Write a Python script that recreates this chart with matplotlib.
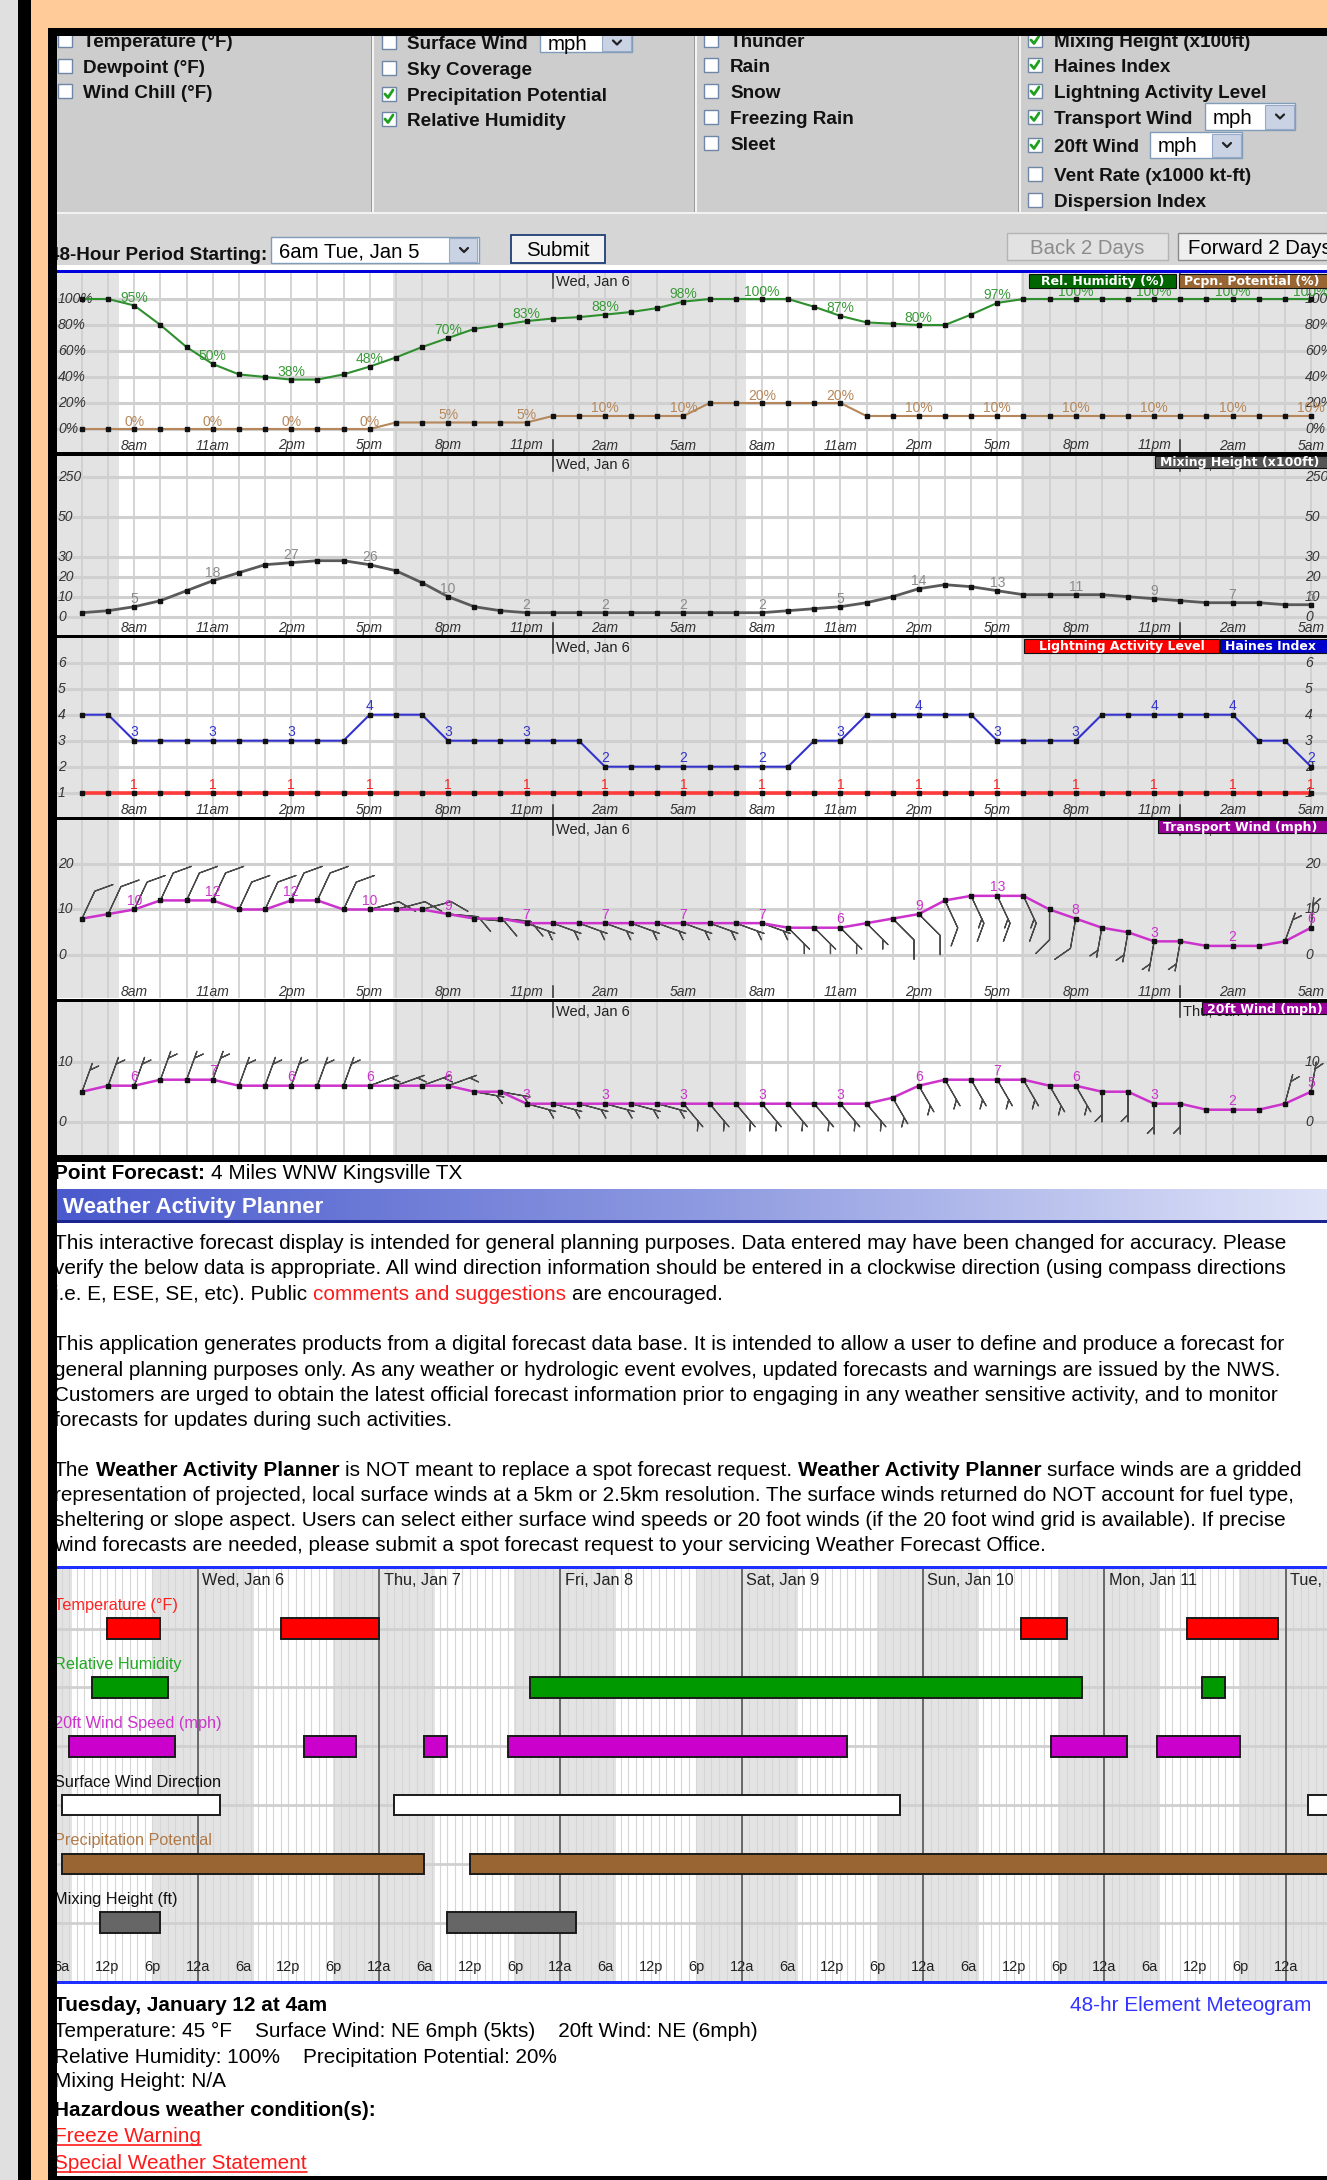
import numpy as np
import matplotlib
matplotlib.use('Agg')
import matplotlib.pyplot as plt
from matplotlib.patches import Rectangle
from matplotlib.lines import Line2D
from matplotlib.colors import LinearSegmentedColormap
import matplotlib.transforms as mtransforms
from matplotlib import font_manager as fm

# ------------------------------------------------------------------ data
hours = list(range(48))                      # hourly steps, 6am Tue Jan 5 .. 5am Thu Jan 7
hour_tick_hours = list(range(2, 48, 3))
hour_tick_labels = ['8am', '11am', '2pm', '5pm', '8pm', '11pm', '2am', '5am',
                    '8am', '11am', '2pm', '5pm', '8pm', '11pm', '2am', '5am']
day_mark_hours = [18, 42]
day_mark_labels = ['Wed, Jan 6', 'Thu, Jan 7']
value_label_hours = list(range(2, 48, 3))

rel_humidity = [100, 100, 95, 80, 63, 50, 42, 40, 38, 38, 42, 48,
                55, 63, 70, 77, 80, 83, 85, 86, 88, 90, 93, 98,
                100, 100, 100, 100, 94, 87, 82, 81, 80, 80, 88, 97,
                100, 100, 100, 100, 100, 100, 100, 100, 100, 100, 100, 100]
precip_potential = [0, 0, 0, 0, 0, 0, 0, 0, 0, 0, 0, 0,
                    5, 5, 5, 5, 5, 5, 10, 10, 10, 10, 10, 10,
                    20, 20, 20, 20, 20, 20, 10, 10, 10, 10, 10, 10,
                    10, 10, 10, 10, 10, 10, 10, 10, 10, 10, 10, 10]
mixing_height = [2, 3, 5, 8, 13, 18, 22, 26, 27, 28, 28, 26,
                 23, 17, 10, 5, 3, 2, 2, 2, 2, 2, 2, 2,
                 2, 2, 2, 3, 4, 5, 7, 10, 14, 16, 15, 13,
                 11, 11, 11, 11, 10, 9, 8, 7, 7, 7, 6, 6]
haines_index = [4, 4, 3, 3, 3, 3, 3, 3, 3, 3, 3, 4,
                4, 4, 3, 3, 3, 3, 3, 3, 2, 2, 2, 2,
                2, 2, 2, 2, 3, 3, 4, 4, 4, 4, 4, 3,
                3, 3, 3, 4, 4, 4, 4, 4, 4, 3, 3, 2]
lightning_level = [1, 1, 1, 1, 1, 1, 1, 1, 1, 1, 1, 1,
                   1, 1, 1, 1, 1, 1, 1, 1, 1, 1, 1, 1,
                   1, 1, 1, 1, 1, 1, 1, 1, 1, 1, 1, 1,
                   1, 1, 1, 1, 1, 1, 1, 1, 1, 1, 1, 1]
transport_wind = [8, 9, 10, 12, 12, 12, 10, 10, 12, 12, 10, 10,
                  10, 10, 9, 8, 8, 7, 7, 7, 7, 7, 7, 7,
                  7, 7, 7, 6, 6, 6, 7, 8, 9, 12, 13, 13,
                  13, 10, 8, 6, 5, 3, 3, 2, 2, 2, 3, 6]
transport_dir = [25, 25, 25, 25, 25, 25, 25, 25, 25, 25, 25, 75,
                 75, 75, 95, 95, 95, 110, 110, 110, 110, 110, 110, 110,
                 110, 110, 110, 135, 135, 135, 135, 135, 135, 155, 155, 155,
                 155, 180, 190, 190, 190, 190, 190, 230, 20, 20, 20, 5]
wind20_speed = [5, 6, 6, 7, 7, 7, 6, 6, 6, 6, 6, 6,
                6, 6, 6, 5, 5, 3, 3, 3, 3, 3, 3, 3,
                3, 3, 3, 3, 3, 3, 3, 4, 6, 7, 7, 7,
                7, 6, 6, 5, 5, 3, 3, 2, 2, 2, 3, 5]
wind20_dir = [20, 20, 20, 20, 20, 20, 20, 20, 20, 20, 20, 70,
              70, 70, 70, 100, 100, 105, 105, 105, 105, 105, 105, 140,
              140, 140, 140, 140, 140, 140, 140, 150, 150, 150, 150, 150,
              150, 150, 150, 180, 180, 180, 180, 165, 165, 15, 15, 10]

rh_ticks = [0, 20, 40, 60, 80, 100]
mix_ticks = [0, 10, 20, 30, 50, 250]
haines_ticks = [1, 2, 3, 4, 5, 6]
transport_ticks = [0, 10, 20]
wind20_ticks = [0, 10]

# planner (hours counted from Tue Jan 5 00:00)
planner_rows = ['Temperature (°F)', 'Relative Humidity', '20ft Wind Speed (mph)',
                'Surface Wind Direction', 'Precipitation Potential', 'Mixing Height (ft)']
planner_fill = ['#ff0000', '#009900', '#cc00cc', '#ffffff', '#996633', '#666666']
planner_text = ['#ff2020', '#22aa22', '#cc33cc', '#111111', '#b07a48', '#111111']
temp_spans = [(12, 19), (35, 48), (133, 139), (155, 167)]
rh_spans = [(10, 20), (68, 141), (157, 160)]
wind20_spans = [(7, 21), (38, 45), (54, 57), (65, 110), (137, 147), (151, 162)]
sfc_dir_spans = [(6, 27), (50, 117), (171, 185)]
pop_spans = [(6, 54), (60, 185)]
mix_spans = [(11, 19), (57, 74)]
planner_spans = [temp_spans, rh_spans, wind20_spans, sfc_dir_spans, pop_spans, mix_spans]
planner_days = [24, 48, 72, 96, 120, 144, 168]
planner_day_labels = ['Wed, Jan 6', 'Thu, Jan 7', 'Fri, Jan 8', 'Sat, Jan 9',
                      'Sun, Jan 10', 'Mon, Jan 11', 'Tue, Jan 12']
planner_tick_hours = list(range(6, 169, 6))
planner_tick_labels = ['6a', '12p', '6p', '12a'] * 7
sunrise_hour, sunset_hour = 7.4, 17.9

# ------------------------------------------------------------------ figure helpers
W, H = 1327, 2180
fig = plt.figure(figsize=(W / 100, H / 100), dpi=100)
fig.patch.set_facecolor('white')
R = fig.canvas.get_renderer()


def has_font(name):
    try:
        fm.findfont(fm.FontProperties(family=name), fallback_to_default=False)
        return True
    except Exception:
        return False


SANS = 'Liberation Sans' if has_font('Liberation Sans') else 'DejaVu Sans'
WIDE = 'DejaVu Sans'


def X(x):
    return x / W


def Y(y):
    return 1 - y / H


def box(x, y, w, h, fc, ec='none', lw=0.0, z=0.5):
    r = Rectangle((X(x), Y(y + h)), w / W, h / H, transform=fig.transFigure,
                  facecolor=fc, edgecolor=ec, linewidth=lw, zorder=z)
    fig.add_artist(r)
    return r


def fline(xs, ys, color, lw, z=2):
    fig.add_artist(Line2D([X(v) for v in xs], [Y(v) for v in ys], transform=fig.transFigure,
                          color=color, lw=lw, zorder=z, solid_capstyle='round'))


def width_px(s, size, **kw):
    t = fig.text(0, 0, '|' + s + '|', fontsize=size, **kw)
    w1 = t.get_window_extent(R).width
    t.set_text('||')
    w2 = t.get_window_extent(R).width
    t.remove()
    return w1 - w2


def fit_size(s, target, **kw):
    return 10.0 * target / width_px(s, 10.0, **kw)


def txt(x, yc, s, size, z=3, ha='left', **kw):
    base = yc + 0.36 * size * 100 / 72
    return fig.text(X(x), Y(base), s, fontsize=size, ha=ha, va='baseline', zorder=z, **kw)


def rich(x, yc, segs, size, family=SANS):
    for s, opt in segs:
        props = dict(family=family, weight=opt.get('weight', 'normal'))
        lead = len(s) - len(s.lstrip(' '))
        trail = len(s) - len(s.rstrip(' '))
        core = s.strip(' ')
        if lead:
            x += width_px(' ' * lead, size, **props)
        if core:
            col = opt.get('color', 'black')
            txt(x, yc, core, size, color=col, **props)
            wc = width_px(core, size, **props)
            if opt.get('underline'):
                b = yc + 0.36 * size * 100 / 72 + 2.5
                fline([x, x + wc], [b, b], col, 1.2, z=3)
            x += wc
        if trail:
            x += width_px(' ' * trail, size, **props)
    return x


# ------------------------------------------------------------------ page frame
box(0, 0, 18, H, '#e0e0e0', z=10)
box(18, 0, 13, H, 'black', z=10)
box(31, 0, W - 31, 28, '#ffcc99', z=10)
box(31, 28, 17, H - 28, '#ffcc99', z=10)
box(48, 28, W - 48, 8, 'black', z=10)
box(48, 28, 9, H - 28, 'black', z=10)
box(48, 2176, W - 48, 4, 'black', z=10)

# ------------------------------------------------------------------ control panel
box(57, 36, W - 57, 176, '#cdcdcd', z=0.2)
box(57, 212, W - 57, 2, '#f2f2f2', z=0.2)
box(57, 214, W - 57, 51, '#d6d6d6', z=0.2)
box(57, 265, W - 57, 4.5, '#ffffff', z=0.2)
box(57, 269.5, W - 57, 3, '#0000dd', z=2)
for xd in (372, 695, 1019):
    box(xd - 1, 36, 1, 176, '#9a9a9a', z=0.3)
    box(xd, 36, 2, 176, '#f4f4f4', z=0.3)

CB = fit_size('Precipitation Potential', 199, family=SANS, weight='bold')


def checkbox(x, yc, checked):
    box(x, yc - 7, 14, 14, 'white', ec='#6f86a6', lw=1.0, z=1)
    if checked:
        fline([x + 3, x + 6, x + 11], [yc, yc + 3.5, yc - 4], '#1fa01f', 2.0, z=2)


columns = [
    (58, 83, [('Temperature (°F)', False, 40), ('Dewpoint (°F)', False, 66),
              ('Wind Chill (°F)', False, 91)]),
    (382, 407, [('Surface Wind', False, 42), ('Sky Coverage', False, 68),
                ('Precipitation Potential', True, 94), ('Relative Humidity', True, 119)]),
    (704, 730, [('Thunder', False, 40), ('Rain', False, 65), ('Snow', False, 91),
                ('Freezing Rain', False, 117), ('Sleet', False, 143)]),
    (1028, 1054, [('Mixing Height (x100ft)', True, 40), ('Haines Index', True, 65),
                  ('Lightning Activity Level', True, 91), ('Transport Wind', True, 117),
                  ('20ft Wind', True, 145), ('Vent Rate (x1000 kt-ft)', False, 174),
                  ('Dispersion Index', False, 200)]),
]
for cbx, tx, items in columns:
    for label, checked, yc in items:
        checkbox(cbx, yc, checked)
        txt(tx, yc, label, CB, family=SANS, weight='bold', color='#111111', z=1)

DD = fit_size('6am Tue, Jan 5', 141, family=SANS)


def dropdown(x0, x1, y0, y1, label, size, arrow_w=30):
    box(x0, y0, x1 - x0, y1 - y0, 'white', ec='#7f9db9', lw=1.0, z=1)
    box(x1 - arrow_w, y0 + 1.5, arrow_w - 1.5, y1 - y0 - 3, '#c9d3e4', ec='#97a9c6', lw=0.8, z=1.1)
    cx, cy = x1 - arrow_w / 2, (y0 + y1) / 2
    fline([cx - 4, cx, cx + 4], [cy - 2, cy + 2, cy - 2], '#222222', 1.6, z=1.2)
    txt(x0 + 8, cy, label, size, family=SANS, color='black', z=1.2)


dropdown(540, 632, 33, 52, 'mph', DD)
dropdown(1205, 1295, 103, 130, 'mph', DD)
dropdown(1150, 1242, 132, 158, 'mph', DD)
dropdown(271, 479, 237, 263, '6am Tue, Jan 5', DD)

txt(49, 253, '48-Hour Period Starting:', CB, family=SANS, weight='bold', color='#111111', z=1)
box(511, 235, 94, 28, '#f3f3f3', ec='#1f3f76', lw=1.3, z=1)
txt(558, 249, 'Submit', DD, ha='center', family=SANS, color='black', z=1.2)
box(1007, 233, 161, 27, '#e2e2e2', ec='#b4b4b4', lw=1.0, z=1)
txt(1087, 247, 'Back 2 Days', DD, ha='center', family=SANS, color='#8c8c8c', z=1.2)
box(1178, 233, 170, 27, '#efefef', ec='#8a8a8a', lw=1.0, z=1)
txt(1188, 247, 'Forward 2 Days', DD, family=SANS, color='black', z=1.2)

# ------------------------------------------------------------------ meteogram panels
PX0, PXW = 57, W - 57
HX0, HPX = 82.0, 26.15
xlim = ((PX0 - HX0) / HPX, (PX0 + PXW - HX0) / HPX)
night_spans = [(-3, sunrise_hour - 6), (sunset_hour - 6, sunrise_hour + 18),
               (sunset_hour + 18, 50)]
LEG = fit_size('Mixing Height (x100ft)', 159, family=WIDE, weight='bold')


def chart_axes(top, bottom, ylim, ticks, fmt, show_hours=True, scale=None):
    hp = bottom - top
    ax = fig.add_axes([X(PX0), Y(bottom), PXW / W, hp / H], zorder=1)
    if scale is not None:
        ax.set_yscale('function', functions=scale)
    ax.set_xlim(*xlim)
    ax.set_ylim(*ylim)
    ax.set_facecolor('white')
    for a, b in night_spans:
        ax.axvspan(a, b, color='#e3e3e3', lw=0, zorder=0)
    for h in hours:
        ax.axvline(h, color='#cdcdcd', lw=1.2, zorder=0.5)
    for t in ticks:
        ax.axhline(t, color='#d0d0d0', lw=2.2, zorder=0.5)
    ax.set_xticks([])
    ax.set_yticks([])
    ax.minorticks_off()
    for s in ax.spines.values():
        s.set_visible(False)
    bt = mtransforms.blended_transform_factory(ax.transAxes, ax.transData)
    for t in ticks:
        for xa in (1.0 / PXW, (1305 - PX0) / PXW):
            ax.text(xa, t, fmt(t), transform=bt, ha='left', va='center', fontsize=10,
                    style='italic', family=SANS, color='#333333', zorder=2)
    bx = mtransforms.blended_transform_factory(ax.transData, ax.transAxes)
    if show_hours:
        for h, lab in zip(hour_tick_hours, hour_tick_labels):
            ax.text(h, 6.5 / hp, lab, transform=bx, ha='center', va='center', fontsize=10,
                    style='italic', family=SANS, color='#333333', zorder=2)
    for h, lab in zip(day_mark_hours, day_mark_labels):
        ax.plot([h, h], [1 - 15 / hp, 1], transform=bx, color='#333333', lw=1.1, zorder=2)
        ax.text(h + 3 / HPX, 1 - 9.5 / hp, lab, transform=bx, ha='left', va='center',
                fontsize=10.5, family=SANS, color='#222222', zorder=2)
        if show_hours:
            ax.plot([h, h], [0, 12 / hp], transform=bx, color='#333333', lw=1.1, zorder=2)
    return ax


def series(ax, y, color, lw, fmt, label_color, dy=7.5, weight='normal', ms=3.2):
    ax.plot(hours, y, color=color, lw=lw, zorder=3, solid_joinstyle='round')
    ax.plot(hours, y, ls='none', marker='s', ms=ms, color='#111111', zorder=4)
    for h in value_label_hours:
        ax.annotate(fmt(y[h]), (h, y[h]), xytext=(0, dy * 0.72), textcoords='offset points',
                    ha='center', va='center', fontsize=10, family=SANS, color=label_color,
                    weight=weight, zorder=5)


def legend_box(x0, y0, w, h, fc, label, center=False):
    box(x0, y0, w, h, fc, ec='#111111', lw=0.8, z=6)
    if center:
        txt(x0 + w / 2, y0 + h / 2, label, LEG, ha='center', family=WIDE, weight='bold',
            color='white', z=7)
    else:
        txt(x0 + 5, y0 + h / 2, label, LEG, family=WIDE, weight='bold', color='white', z=7)


def barb_uv(speed, direction):
    s = np.asarray(speed, float)
    d = np.radians(np.asarray(direction, float))
    return -s * np.sin(d), -s * np.cos(d)


BARB_SIZES = dict(emptybarb=0.0, height=0.45, width=0.9, spacing=0.16)

# panel 1: relative humidity / precip potential
ax1 = chart_axes(272.5, 452, ((429 - 452) / 1.3, (429 - 272.5) / 1.3), rh_ticks,
                 lambda t: f'{t}%')
series(ax1, rel_humidity, '#2f8f2f', 1.5, lambda v: f'{v}%', '#3a9a3a')
series(ax1, precip_potential, '#b5875a', 1.5, lambda v: f'{v}%', '#b5875a')
legend_box(1029, 274, 147, 14, '#006600', 'Rel. Humidity (%)', center=True)
legend_box(1179, 274, 170, 14, '#996633', 'Pcpn. Potential (%)')
box(57, 452, W - 57, 3.5, 'black', z=2)


# panel 2: mixing height (piecewise compressed scale above 50)
def mix_fwd(v):
    v = np.asarray(v, float)
    return np.where(v <= 50, v, 50 + (v - 50) * 0.1)


def mix_inv(t):
    t = np.asarray(t, float)
    return np.where(t <= 50, t, 50 + (t - 50) / 0.1)


ax2 = chart_axes(455.5, 634.5, (-8.9, 356.0), mix_ticks, lambda t: f'{t}',
                 scale=(mix_fwd, mix_inv))
series(ax2, mixing_height, '#5a5a5a', 2.0, lambda v: f'{v}', '#8a8a8a')
legend_box(1155, 456, 185, 12, '#555555', 'Mixing Height (x100ft)')
box(57, 634.5, W - 57, 3.5, 'black', z=2)

# panel 3: Haines index / lightning activity level
ax3 = chart_axes(638, 816.5, (1 + (792.7 - 816.5) / 26, 1 + (792.7 - 638) / 26),
                 haines_ticks, lambda t: f'{t}')
series(ax3, haines_index, '#3333cc', 1.5, lambda v: f'{v}', '#3333cc', dy=9)
series(ax3, lightning_level, '#ff3b3b', 2.6, lambda v: f'{v}', '#ff2020', dy=8)
legend_box(1024, 638.5, 195, 14, '#ff0000', 'Lightning Activity Level', center=True)
legend_box(1220, 638.5, 120, 14, '#0000cc', 'Haines Index')
box(57, 816.5, W - 57, 3.5, 'black', z=2)

# panel 4: transport wind
ax4 = chart_axes(820, 998.5, ((955 - 998.5) / 4.55, (955 - 820) / 4.55), transport_ticks,
                 lambda t: f'{t}')
u4, v4 = barb_uv(transport_wind, transport_dir)
ax4.barbs(hours, transport_wind, u4, v4, length=6.6, color='#4a4a4a', linewidth=0.9,
          sizes=BARB_SIZES, zorder=2.5)
series(ax4, transport_wind, '#cc33cc', 1.8, lambda v: f'{v}', '#cc33cc', dy=8.5)
legend_box(1158, 820, 182, 12.5, '#990099', 'Transport Wind (mph)')
box(57, 998.5, W - 57, 3.5, 'black', z=2)

# panel 5: 20ft wind
ax5 = chart_axes(1002, 1155, ((1121.7 - 1155) / 6, (1121.7 - 1002) / 6), wind20_ticks,
                 lambda t: f'{t}', show_hours=False)
u5, v5 = barb_uv(wind20_speed, wind20_dir)
ax5.barbs(hours, wind20_speed, u5, v5, length=6.6, color='#4a4a4a', linewidth=0.9,
          sizes=BARB_SIZES, zorder=2.5)
series(ax5, wind20_speed, '#cc33cc', 1.8, lambda v: f'{v}', '#cc33cc', dy=8.5)
legend_box(1202, 1002, 140, 12.5, '#990099', '20ft Wind (mph)')
box(57, 1155, W - 57, 7, 'black', z=2)

# ------------------------------------------------------------------ text block
BODY = fit_size('This interactive forecast display is intended for general planning purposes. '
                'Data entered may have been changed for accuracy. Please', 1240, family=SANS)
N = {}
B = {'weight': 'bold'}
RED = {'color': '#ff1a1a'}
TX = 54

rich(TX, 1172, [('Point Forecast:', B), (' 4 Miles WNW Kingsville TX', N)], BODY)

gax = fig.add_axes([X(57), Y(1220), (W - 57) / W, 31 / H], zorder=1)
gcm = LinearSegmentedColormap.from_list('bar', ['#4a5acd', '#8d99e0', '#dfe3f8'])
gax.imshow(np.linspace(0, 1, 256)[None, :], aspect='auto', cmap=gcm, extent=[0, 1, 0, 1])
gax.axis('off')
box(57, 1220, W - 57, 3, '#1a2590', z=2)
txt(63, 1205, 'Weather Activity Planner', fit_size('Weather Activity Planner', 261, family=SANS,
                                                    weight='bold'),
    family=SANS, weight='bold', color='white', z=3)

para = [
    (1241.7, [('This interactive forecast display is intended for general planning purposes. Data entered may have been changed for accuracy. Please', N)]),
    (1266.7, [('verify the below data is appropriate. All wind direction information should be entered in a clockwise direction (using compass directions', N)]),
    (1292.3, [('i.e. E, ESE, SE, etc). Public ', N), ('comments and suggestions', RED), (' are encouraged.', N)]),
    (1342.7, [('This application generates products from a digital forecast data base. It is intended to allow a user to define and produce a forecast for', N)]),
    (1368.3, [('general planning purposes only. As any weather or hydrologic event evolves, updated forecasts and warnings are issued by the NWS.', N)]),
    (1393.3, [('Customers are urged to obtain the latest official forecast information prior to engaging in any weather sensitive activity, and to monitor', N)]),
    (1418.3, [('forecasts for updates during such activities.', N)]),
    (1468.3, [('The ', N), ('Weather Activity Planner', B), (' is NOT meant to replace a spot forecast request. ', N),
              ('Weather Activity Planner', B), (' surface winds are a gridded', N)]),
    (1493.3, [('representation of projected, local surface winds at a 5km or 2.5km resolution. The surface winds returned do NOT account for fuel type,', N)]),
    (1518.3, [('sheltering or slope aspect. Users can select either surface wind speeds or 20 foot winds (if the 20 foot wind grid is available). If precise', N)]),
    (1543.3, [('wind forecasts are needed, please submit a spot forecast request to your servicing Weather Forecast Office.', N)]),
]
for yc, segs in para:
    rich(TX, yc, segs, BODY)

# ------------------------------------------------------------------ activity planner
PL_TOP, PL_BOT = 1569, 1981
PL_HX, PL_HPX = 197.8, 7.554          # pixel of hour 24 (Wed 00:00), px per hour
ROW0, ROWPX = 1628.7, 58.8
pax = fig.add_axes([X(57), Y(PL_BOT), (W - 57) / W, (PL_BOT - PL_TOP) / H], zorder=1)
pax.set_xlim(24 + (57 - PL_HX) / PL_HPX, 24 + (W - PL_HX) / PL_HPX)
pax.set_ylim((PL_BOT - ROW0) / ROWPX, (PL_TOP - ROW0) / ROWPX)
pax.set_facecolor('white')
for d in range(-1, 8):
    pax.axvspan(24 * d + sunset_hour, 24 * (d + 1) + sunrise_hour, color='#e3e3e3', lw=0, zorder=0)
for h in range(0, 180):
    pax.axvline(h, color='#d6d6d6', lw=0.8, zorder=0.5)
for i in range(len(planner_rows)):
    pax.axhline(i, color='#d0d0d0', lw=2.0, zorder=0.6)
for d in planner_days:
    pax.axvline(d, color='#555555', lw=1.2, zorder=0.8)
pax.set_xticks([])
pax.set_yticks([])
for s in pax.spines.values():
    s.set_visible(False)
bar_h = 20.7 / ROWPX
for i, spans in enumerate(planner_spans):
    for a, b in spans:
        pax.barh(i, b - a, left=a, height=bar_h, color=planner_fill[i], edgecolor='#1a1a1a',
                 linewidth=1.4, zorder=3)
PLF = fit_size('Temperature (°F)', 124, family=SANS)
pbt = mtransforms.blended_transform_factory(pax.transAxes, pax.transData)
for i, lab in enumerate(planner_rows):
    pax.text(-3 / (W - 57), i - 23 / ROWPX, lab, transform=pbt, ha='left', va='center',
             fontsize=PLF, family=SANS, color=planner_text[i], zorder=4)
for d, lab in zip(planner_days, planner_day_labels):
    pax.text(d + 4.5 / PL_HPX, -48 / ROWPX, lab, ha='left', va='center', fontsize=PLF,
             family=SANS, color='#222222', zorder=4)
for h, lab in zip(planner_tick_hours, planner_tick_labels):
    pax.text(h, (1966.7 - ROW0) / ROWPX, lab, ha='center', va='center', fontsize=PLF * 0.9,
             family=SANS, color='#222222', zorder=4)
box(57, 1566, W - 57, 3, '#1f2fff', z=2)
box(57, 1981, W - 57, 3, '#1f2fff', z=2)

# ------------------------------------------------------------------ bottom summary
rich(TX, 2003.3, [('Tuesday, January 12 at 4am', B)], BODY)
rich(TX, 2030, [('Temperature: 45 °F    Surface Wind: NE 6mph (5kts)    20ft Wind: NE (6mph)', N)], BODY)
rich(TX, 2056, [('Relative Humidity: 100%    Precipitation Potential: 20%', N)], BODY)
rich(TX, 2080, [('Mixing Height: N/A', N)], BODY)
rich(TX, 2108.3, [('Hazardous weather condition(s):', B)], BODY)
rich(TX, 2135, [('Freeze Warning', {'color': '#ff1a1a', 'underline': True})], BODY)
rich(TX, 2161.7, [('Special Weather Statement', {'color': '#ff1a1a', 'underline': True})], BODY)
rich(1070, 2003.3, [('48-hr Element Meteogram', {'color': '#3333ff'})], BODY)

fig.savefig('out.png', dpi=100)
